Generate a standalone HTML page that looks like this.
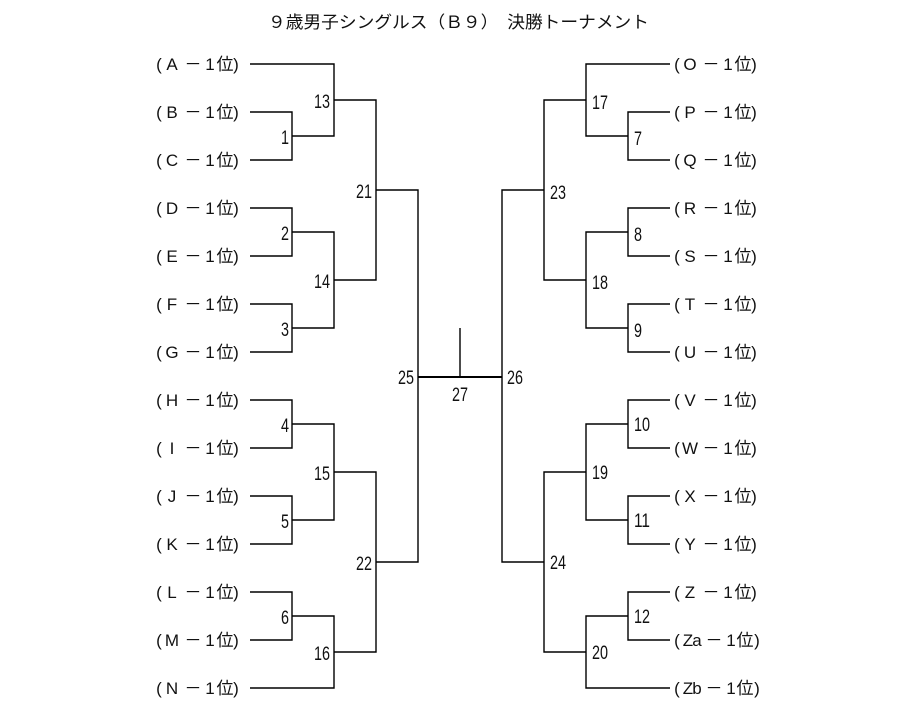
<!DOCTYPE html>
<html><head><meta charset="utf-8"><style>
html,body{margin:0;padding:0;background:#fff;}
svg{display:block;}
text{font-family:"Liberation Sans","Noto Sans CJK JP",sans-serif;fill:#111;}
.l text{font-size:17px;}
.n{font-size:19px;}
</style></head><body>
<svg width="920" height="706" viewBox="0 0 920 706">
<text x="268" y="28" font-size="17" textLength="381" lengthAdjust="spacingAndGlyphs">９歳男子シングルス（Ｂ９）　決勝トーナメント</text>
<g stroke="#000" stroke-width="1.4" fill="none">
<polyline points="250,64 334,64 334,136 292,136"/>
<polyline points="250,112 292,112 292,160 250,160"/>
<polyline points="334,100 376,100 376,280 334,280"/>
<polyline points="250,208 292,208 292,256 250,256"/>
<polyline points="292,232 334,232 334,328 292,328"/>
<polyline points="250,304 292,304 292,352 250,352"/>
<polyline points="376,190 418,190 418,562 376,562"/>
<polyline points="250,400 292,400 292,448 250,448"/>
<polyline points="292,424 334,424 334,520 292,520"/>
<polyline points="250,496 292,496 292,544 250,544"/>
<polyline points="334,472 376,472 376,652 334,652"/>
<polyline points="250,592 292,592 292,640 250,640"/>
<polyline points="292,616 334,616 334,688 250,688"/>
<polyline points="670,64 586,64 586,136 628,136"/>
<polyline points="670,112 628,112 628,160 670,160"/>
<polyline points="586,100 544,100 544,280 586,280"/>
<polyline points="670,208 628,208 628,256 670,256"/>
<polyline points="628,232 586,232 586,328 628,328"/>
<polyline points="670,304 628,304 628,352 670,352"/>
<polyline points="544,190 502,190 502,562 544,562"/>
<polyline points="670,400 628,400 628,448 670,448"/>
<polyline points="628,424 586,424 586,520 628,520"/>
<polyline points="670,496 628,496 628,544 670,544"/>
<polyline points="586,472 544,472 544,652 586,652"/>
<polyline points="670,592 628,592 628,640 670,640"/>
<polyline points="628,616 586,616 586,688 670,688"/>
<line x1="418" y1="377" x2="502" y2="377" stroke-width="2"/>
<line x1="460" y1="328" x2="460" y2="377"/>
</g>
<g class="l" text-anchor="middle">
<text x="159 172 193 210 225 236" y="70">(A－1位)</text>
<text x="159 172 193 210 225 236" y="118">(B－1位)</text>
<text x="159 172 193 210 225 236" y="166">(C－1位)</text>
<text x="159 172 193 210 225 236" y="214">(D－1位)</text>
<text x="159 172 193 210 225 236" y="262">(E－1位)</text>
<text x="159 172 193 210 225 236" y="310">(F－1位)</text>
<text x="159 172 193 210 225 236" y="358">(G－1位)</text>
<text x="159 172 193 210 225 236" y="406">(H－1位)</text>
<text x="159 172 193 210 225 236" y="454">(I－1位)</text>
<text x="159 172 193 210 225 236" y="502">(J－1位)</text>
<text x="159 172 193 210 225 236" y="550">(K－1位)</text>
<text x="159 172 193 210 225 236" y="598">(L－1位)</text>
<text x="159 172 193 210 225 236" y="646">(M－1位)</text>
<text x="159 172 193 210 225 236" y="694">(N－1位)</text>
<text x="677 690 711 728 743 754" y="70">(O－1位)</text>
<text x="677 690 711 728 743 754" y="118">(P－1位)</text>
<text x="677 690 711 728 743 754" y="166">(Q－1位)</text>
<text x="677 690 711 728 743 754" y="214">(R－1位)</text>
<text x="677 690 711 728 743 754" y="262">(S－1位)</text>
<text x="677 690 711 728 743 754" y="310">(T－1位)</text>
<text x="677 690 711 728 743 754" y="358">(U－1位)</text>
<text x="677 690 711 728 743 754" y="406">(V－1位)</text>
<text x="677 690 711 728 743 754" y="454">(W－1位)</text>
<text x="677 690 711 728 743 754" y="502">(X－1位)</text>
<text x="677 690 711 728 743 754" y="550">(Y－1位)</text>
<text x="677 690 711 728 743 754" y="598">(Z－1位)</text>
<text x="677 688 697 714 731 745 757" y="646">(Za－1位)</text>
<text x="677 688 697 714 731 745 757" y="694">(Zb－1位)</text>
</g>
<g class="n" text-anchor="end">
<text x="330" y="108" textLength="16" lengthAdjust="spacingAndGlyphs">13</text>
<text x="289" y="144" textLength="8" lengthAdjust="spacingAndGlyphs">1</text>
<text x="289" y="240" textLength="8" lengthAdjust="spacingAndGlyphs">2</text>
<text x="330" y="288" textLength="16" lengthAdjust="spacingAndGlyphs">14</text>
<text x="289" y="336" textLength="8" lengthAdjust="spacingAndGlyphs">3</text>
<text x="372" y="198" textLength="16" lengthAdjust="spacingAndGlyphs">21</text>
<text x="289" y="432" textLength="8" lengthAdjust="spacingAndGlyphs">4</text>
<text x="330" y="480" textLength="16" lengthAdjust="spacingAndGlyphs">15</text>
<text x="289" y="528" textLength="8" lengthAdjust="spacingAndGlyphs">5</text>
<text x="289" y="624" textLength="8" lengthAdjust="spacingAndGlyphs">6</text>
<text x="330" y="660" textLength="16" lengthAdjust="spacingAndGlyphs">16</text>
<text x="372" y="570" textLength="16" lengthAdjust="spacingAndGlyphs">22</text>
<text x="414" y="384" textLength="16" lengthAdjust="spacingAndGlyphs">25</text>
</g>
<g class="n">
<text x="592" y="109" textLength="16" lengthAdjust="spacingAndGlyphs">17</text>
<text x="634" y="145" textLength="8" lengthAdjust="spacingAndGlyphs">7</text>
<text x="634" y="241" textLength="8" lengthAdjust="spacingAndGlyphs">8</text>
<text x="592" y="289" textLength="16" lengthAdjust="spacingAndGlyphs">18</text>
<text x="634" y="337" textLength="8" lengthAdjust="spacingAndGlyphs">9</text>
<text x="550" y="199" textLength="16" lengthAdjust="spacingAndGlyphs">23</text>
<text x="634" y="431" textLength="16" lengthAdjust="spacingAndGlyphs">10</text>
<text x="592" y="479" textLength="16" lengthAdjust="spacingAndGlyphs">19</text>
<text x="634" y="527" textLength="16" lengthAdjust="spacingAndGlyphs">11</text>
<text x="634" y="623" textLength="16" lengthAdjust="spacingAndGlyphs">12</text>
<text x="592" y="659" textLength="16" lengthAdjust="spacingAndGlyphs">20</text>
<text x="550" y="569" textLength="16" lengthAdjust="spacingAndGlyphs">24</text>
<text x="507" y="384" textLength="16" lengthAdjust="spacingAndGlyphs">26</text>
<text x="452" y="401" textLength="16" lengthAdjust="spacingAndGlyphs">27</text>
</g>
</svg>
</body></html>
